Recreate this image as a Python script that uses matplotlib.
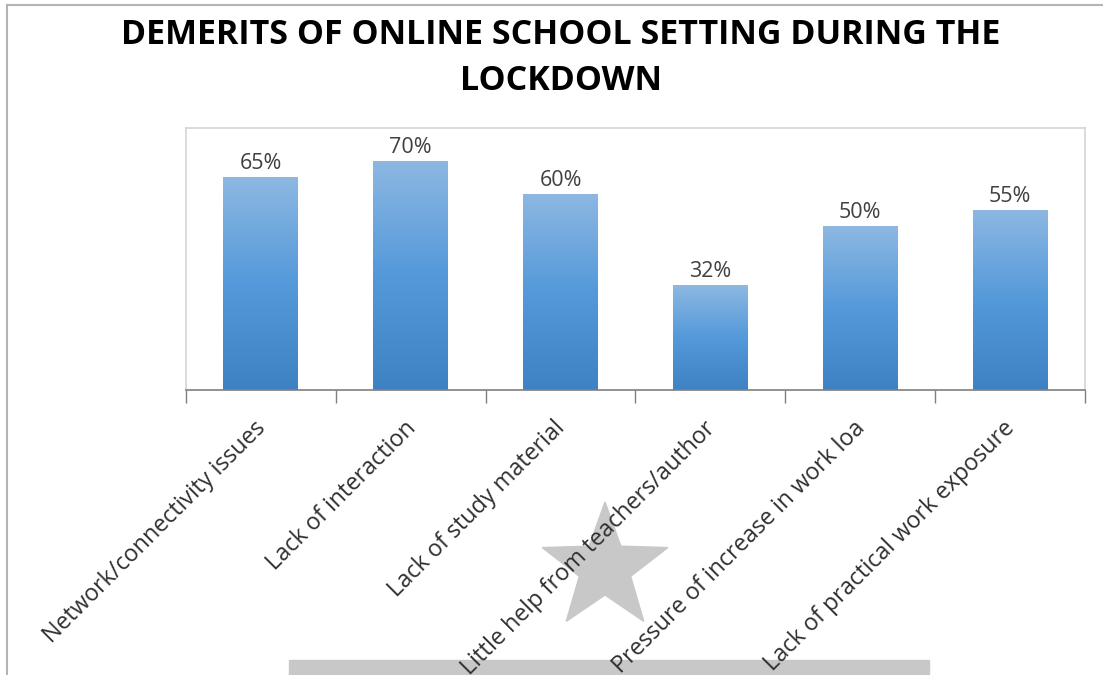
import numpy as np
import matplotlib.pyplot as plt
from matplotlib.colors import LinearSegmentedColormap
from matplotlib.path import Path
from matplotlib.patches import PathPatch, Rectangle
from matplotlib.lines import Line2D
from matplotlib.transforms import ScaledTranslation

categories = ["Network/connectivity issues", "Lack of interaction",
              "Lack of study material", "Little help from teachers/author",
              "Pressure of increase in work loa", "Lack of practical work exposure"]
values = [0.65, 0.70, 0.60, 0.32, 0.50, 0.55]
value_labels = ["65%", "70%", "60%", "32%", "50%", "55%"]
title = "DEMERITS OF ONLINE SCHOOL SETTING DURING THE\nLOCKDOWN"

plt.rcParams['font.family'] = ['Open Sans', 'DejaVu Sans']

fig = plt.figure(figsize=(11.03, 6.75), dpi=100)
W, H = 1103, 675

# outer chart border (only top and left edges are in frame)
fig.add_artist(Line2D([7 / W, 7 / W], [0, 1 - 5 / H], transform=fig.transFigure, color="#b4b4b4", lw=1.5))
fig.add_artist(Line2D([7 / W, 1], [1 - 5 / H, 1 - 5 / H], transform=fig.transFigure, color="#b4b4b4", lw=1.5))

# decorative grey shapes behind the labels
fig.add_artist(Rectangle((289 / W, 0), (929 - 289) / W, 15 / H, transform=fig.transFigure,
                         color="#c8c8c8", zorder=0))
cx, cy, r_out, r_in = 605, 568, 66, 27
ang = np.pi / 2 + np.arange(10) * np.pi / 5
rad = np.where(np.arange(10) % 2 == 0, r_out, r_in)
sx = (cx + rad * np.cos(ang)) / W
sy = 1 - (cy - rad * np.sin(ang)) / H
verts = list(zip(sx, sy)) + [(sx[0], sy[0])]
codes = [Path.MOVETO] + [Path.LINETO] * 9 + [Path.CLOSEPOLY]
fig.add_artist(PathPatch(Path(verts, codes), transform=fig.transFigure, color="#c8c8c8", zorder=0))

ax = fig.add_axes([186 / W, 1 - 390 / H, (1085 - 186) / W, (390 - 128) / H])
ax.patch.set_alpha(0)

x = np.arange(len(categories))
bars = ax.bar(x, values, width=0.5, color="none", zorder=2)

cmap = LinearSegmentedColormap.from_list("blue_grad", ["#3e82c4", "#5499da", "#8db8e2"])
grad = np.linspace(0, 1, 256).reshape(-1, 1)
for b in bars:
    bx, bw, bh = b.get_x(), b.get_width(), b.get_height()
    im = ax.imshow(grad, cmap=cmap, origin="lower", aspect="auto",
                   extent=[bx, bx + bw, 0, bh], zorder=2)
    im.set_clip_path(b)

for xi, v, lab in zip(x, values, value_labels):
    ax.annotate(lab, (xi, v), xytext=(0, 2), textcoords="offset points",
                ha="center", va="bottom", fontsize=15.5, color="#404040")

ax.set_xlim(-0.5, len(categories) - 0.5)
ax.set_ylim(0, 0.8)
ax.set_yticks([])

ax.set_xticks(x)
ax.set_xticklabels(categories, rotation=45, ha="right", rotation_mode="anchor",
                   fontsize=16.8, color="#303030")
ax.tick_params(axis="x", which="major", length=0, pad=19)
shift = ScaledTranslation(-7 / 100, 0, fig.dpi_scale_trans)
for lab in ax.get_xticklabels():
    lab.set_transform(lab.get_transform() + shift)
ax.set_xticks(np.arange(len(categories) + 1) - 0.5, minor=True)
ax.tick_params(axis="x", which="minor", length=9, width=1, color="#7f7f7f", direction="out")

for side in ["top", "right", "left"]:
    ax.spines[side].set_color("#d4d4d4")
    ax.spines[side].set_linewidth(1.2)
ax.spines["bottom"].set_color("#7f7f7f")
ax.spines["bottom"].set_linewidth(1.2)

fig.text(561 / W, 1 - 58 / H, title, ha="center", va="center", fontsize=24.5,
         fontweight="bold", linespacing=1.45)

fig.savefig("out.png", dpi=100)
